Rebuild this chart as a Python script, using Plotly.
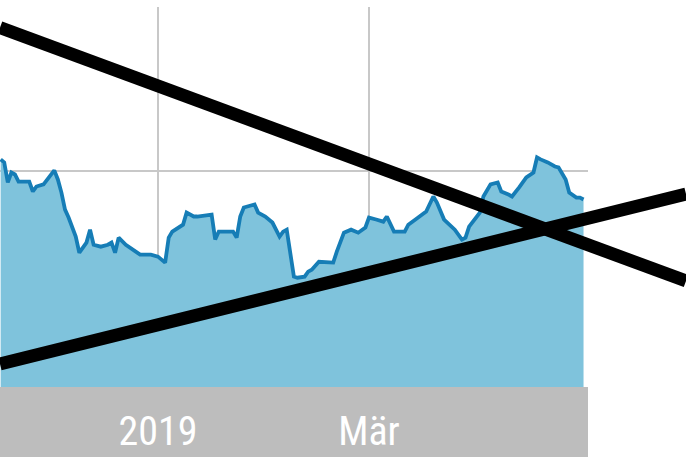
import plotly.graph_objects as go

dates = [
    "2018-11-18", "2018-11-19", "2018-11-20", "2018-11-21", "2018-11-22", "2018-11-23",
    "2018-11-24", "2018-11-26", "2018-11-27", "2018-11-28", "2018-11-30", "2018-12-02",
    "2018-12-03", "2018-12-04", "2018-12-05", "2018-12-06", "2018-12-07", "2018-12-09",
    "2018-12-10", "2018-12-12", "2018-12-13", "2018-12-14", "2018-12-16", "2018-12-18",
    "2018-12-19", "2018-12-20", "2018-12-21", "2018-12-23", "2018-12-25", "2018-12-27",
    "2018-12-30", "2019-01-01", "2019-01-03", "2019-01-04", "2019-01-05", "2019-01-08",
    "2019-01-09", "2019-01-11", "2019-01-12", "2019-01-16", "2019-01-17", "2019-01-18",
    "2019-01-22", "2019-01-23", "2019-01-24", "2019-01-25", "2019-01-28", "2019-01-29",
    "2019-01-31", "2019-02-02", "2019-02-04", "2019-02-05", "2019-02-06", "2019-02-08",
    "2019-02-09", "2019-02-11", "2019-02-12", "2019-02-13", "2019-02-15", "2019-02-17",
    "2019-02-19", "2019-02-20", "2019-02-22", "2019-02-24", "2019-02-26", "2019-02-28",
    "2019-03-01", "2019-03-03", "2019-03-05", "2019-03-06", "2019-03-08", "2019-03-11",
    "2019-03-12", "2019-03-14", "2019-03-15", "2019-03-17", "2019-03-19", "2019-03-20",
    "2019-03-22", "2019-03-25", "2019-03-27", "2019-03-28", "2019-03-29", "2019-04-01",
    "2019-04-02", "2019-04-04", "2019-04-06", "2019-04-07", "2019-04-09", "2019-04-10",
    "2019-04-12", "2019-04-14", "2019-04-16", "2019-04-17", "2019-04-18", "2019-04-20",
    "2019-04-22", "2019-04-23", "2019-04-25", "2019-04-26", "2019-04-28", "2019-04-29",
    "2019-04-30",
]

values = [
    30.56, 30.42, 29.49, 29.95, 29.86, 29.53,
    29.53, 29.53, 29.07, 29.30, 29.40, 29.86,
    30.05, 29.63, 29.02, 28.23, 27.86, 26.98,
    26.23, 26.70, 27.30, 26.60, 26.51, 26.60,
    26.70, 26.23, 26.93, 26.60, 26.37, 26.14,
    26.14, 26.05, 25.77, 26.93, 27.21, 27.53,
    28.09, 27.91, 27.91, 28.00, 26.84, 27.21,
    27.21, 26.93, 27.91, 28.33, 28.47, 28.09,
    27.91, 27.63, 26.98, 27.21, 27.30, 25.12,
    25.07, 25.12, 25.35, 25.44, 25.81, 25.81,
    25.77, 26.28, 27.16, 27.30, 27.16, 27.40,
    27.86, 27.77, 27.67, 27.91, 27.21, 27.21,
    27.53, 27.77, 27.91, 28.14, 28.84, 28.56,
    27.77, 27.30, 26.84, 26.93, 27.44, 28.09,
    28.84, 29.40, 29.49, 29.07, 28.93, 28.84,
    29.26, 29.72, 29.95, 30.65, 30.56, 30.42,
    30.23, 30.19, 29.63, 29.02, 28.79, 28.79,
    28.70,
]

tick_dates = ["2019-01-01", "2019-03-01", "2019-05-01"]
tick_labels = ["2019", "Mär", ""]
y_grid = [20, 30]
x_range = ["2018-11-17 19:40", "2019-05-01 06:00"]
y_range = [20, 37.63]

W, H = 686, 462
x_dom = [0, 588 / W]
y_dom = [1 - 387 / H, 1 - 7 / H]

fig = go.Figure()
fig.add_trace(go.Scatter(
    x=dates, y=values, mode="lines", fill="tozeroy",
    fillcolor="#7fc3dc", line=dict(color="#167db6", width=3.8),
    hoverinfo="skip", showlegend=False,
))

# grey band under the plot for the x labels
fig.add_shape(type="rect", xref="paper", yref="paper",
              x0=0, x1=x_dom[1], y0=1 - 457 / H, y1=y_dom[0],
              fillcolor="#bdbdbd", line=dict(width=0), layer="below")

# crossing black strokes
fig.add_shape(type="line", xref="paper", yref="paper",
              x0=0, y0=1 - 27.5 / H, x1=1, y1=1 - 281 / H,
              line=dict(color="black", width=13), layer="above")
fig.add_shape(type="line", xref="paper", yref="paper",
              x0=0, y0=1 - 364 / H, x1=1, y1=1 - 194 / H,
              line=dict(color="black", width=13), layer="above")

fig.update_layout(
    width=W, height=H,
    margin=dict(l=0, r=0, t=0, b=0),
    paper_bgcolor="white", plot_bgcolor="white",
    xaxis=dict(
        type="date", domain=x_dom, range=x_range,
        tickmode="array", tickvals=tick_dates, ticktext=tick_labels,
        showgrid=True, gridcolor="#c8c8c8", gridwidth=2,
        ticks="", showline=False, zeroline=False,
        tickfont=dict(family="Roboto Condensed, Liberation Sans Narrow, Roboto, sans-serif",
                      size=40, color="white"),
        ticklabelstandoff=17,
    ),
    yaxis=dict(
        domain=y_dom, range=y_range,
        tickmode="array", tickvals=y_grid,
        showgrid=True, gridcolor="#c8c8c8", gridwidth=2,
        showticklabels=False, ticks="", zeroline=False, showline=False,
    ),
)

fig.write_html("out.html", config={"displayModeBar": False},
               post_script="document.body.style.margin='0px';")
